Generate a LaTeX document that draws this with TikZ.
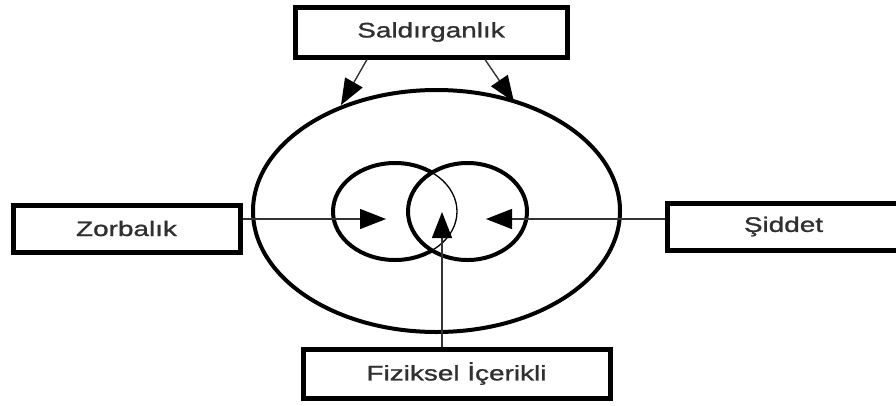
\documentclass[tikz,border=0pt]{standalone}
\usepackage{fontspec}
\setmainfont{Liberation Sans}
\newfontfamily\lblfont[FakeStretch=1.33, FakeBold=1.2]{Liberation Sans}
\usetikzlibrary{arrows.meta,shapes.geometric}
\definecolor{txt}{HTML}{303030}
\tikzset{
  box/.style={draw=black, line width=5pt, fill=white, inner sep=0pt, font=\lblfont\fontsize{21}{21}\selectfont, text=txt},
  ring/.style={draw=black, ellipse, line width=4pt, inner sep=0pt},
  conn/.style={draw=black!80, line width=1.4pt},
  tip/.style={-{Triangle[length=26pt,width=20pt,fill=black,color=black]}}
}
\begin{document}
\begin{tikzpicture}[x=1pt,y=-1pt]
\useasboundingbox (0,0) rectangle (896,405);
\clip (0,0) rectangle (896,405);
% boxes
\node[box, minimum width=272pt, minimum height=50pt] (sal) at (431,32) {Saldırganlık};
\node[box, minimum width=227pt, minimum height=47pt] (zor) at (126.5,228.5) {Zorbalık};
\node[box, minimum width=233pt, minimum height=47pt] (sid) at (783.5,226.5) {Şiddet};
\node[box, minimum width=307pt, minimum height=49pt] (fiz) at (456.5,373.5) {Fiziksel İçerikli};
% big ellipse
\node[ring, minimum width=367pt, minimum height=242pt] (big) at (436.5,211) {};
% small ellipses
\path (395,211.5) coordinate (lc) (467.5,211.5) coordinate (rc);
\begin{scope}
  \clip (rc) ellipse [x radius=59.5, y radius=48.5];
  \draw[line width=1.3pt] (lc) ellipse [x radius=62, y radius=48.5];
\end{scope}
\begin{scope}[even odd rule]
  \clip (0,0) rectangle (896,405) (rc) ellipse [x radius=59.5, y radius=48.5];
  \draw[line width=4pt] (lc) ellipse [x radius=62, y radius=48.5];
\end{scope}
\node[ring, minimum width=119pt, minimum height=97pt] (right) at (rc) {};
% arrow tips
\coordinate (t1) at (341,105);
\coordinate (t2) at (514,102);
\coordinate (tl) at (386,219);
\coordinate (tr) at (486,219);
\coordinate (tu) at (442,212);
% connectors
\draw[conn, tip] (sal.south -| 367,0) -- (t1);
\draw[conn, tip] (sal.south -| 485,0) -- (t2);
\draw[conn, tip] (zor.east |- tl) -- (tl);
\draw[conn, tip] (sid.west |- tr) -- (tr);
\draw[conn, tip] (fiz.north -| tu) -- (tu);
\end{tikzpicture}
\end{document}
